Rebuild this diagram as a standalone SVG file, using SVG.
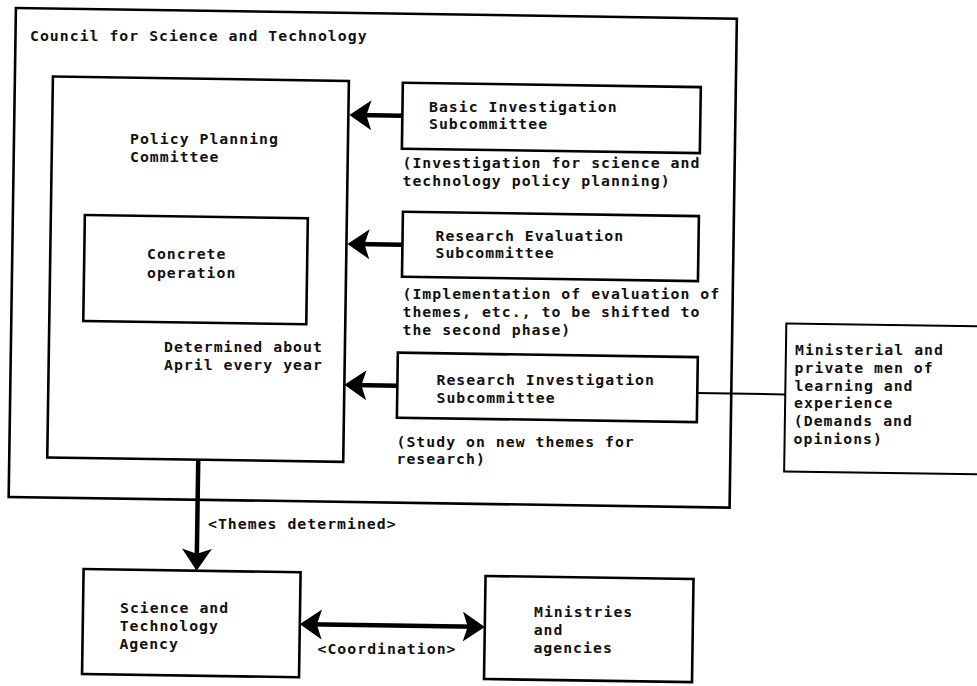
<svg xmlns="http://www.w3.org/2000/svg" width="977" height="686" viewBox="0 0 977 686">
<style>
.box{fill:none;stroke:#000;stroke-width:2.6}
.thinbox{fill:none;stroke:#000;stroke-width:2}
.t{font-family:"DejaVu Sans Mono","Liberation Mono",monospace;font-size:14.8px;letter-spacing:1.02px;font-weight:bold;fill:#111}
.shaft{stroke:#000;stroke-width:4.5;fill:none}
.link{stroke:#000;stroke-width:2;fill:none}
</style>
<defs>
<marker id="head" viewBox="0 0 22 30" refX="14" refY="15" markerWidth="22" markerHeight="30" markerUnits="userSpaceOnUse" orient="auto-start-reverse">
<path d="M0,0 L22,15 L0,30 L5,15 Z" fill="#000"/>
</marker>
</defs>
<rect x="0" y="0" width="977" height="686" fill="#fff"/>
<g id="council">
<rect class="box" x="11" y="15" width="721" height="489" transform="rotate(0.85 488 343)"/>
<text class="t" x="30" y="40.6">Council for Science and Technology</text>
</g>
<g id="policy">
<rect class="box" x="49" y="83" width="296" height="381" transform="rotate(0.85 488 343)"/>
<text class="t" x="130" y="143.7">Policy Planning</text>
<text class="t" x="130" y="162.3">Committee</text>
<text class="t" x="164" y="352.4">Determined about</text>
<text class="t" x="164" y="370.4">April every year</text>
</g>
<g id="concrete">
<rect class="box" x="83" y="221" width="223" height="106" transform="rotate(0.85 488 343)"/>
<text class="t" x="147" y="258.5">Concrete</text>
<text class="t" x="147" y="277.6">operation</text>
</g>
<g id="basic">
<rect class="box" x="399" y="84" width="298" height="66" transform="rotate(0.85 488 343)"/>
<text class="t" x="429" y="111.5">Basic Investigation</text>
<text class="t" x="429" y="129">Subcommittee</text>
<text class="t" x="402.5" y="167.9">(Investigation for science and</text>
<text class="t" x="402.5" y="185.7">technology policy planning)</text>
</g>
<g id="evaluation">
<rect class="box" x="401" y="213" width="296" height="65" transform="rotate(0.85 488 343)"/>
<text class="t" x="435.5" y="240.6">Research Evaluation</text>
<text class="t" x="435.5" y="258.1">Subcommittee</text>
<text class="t" x="402.5" y="299.1">(Implementation of evaluation of</text>
<text class="t" x="402.5" y="316.9">themes, etc., to be shifted to</text>
<text class="t" x="402.5" y="334.6">the second phase)</text>
</g>
<g id="investigation">
<rect class="box" x="398" y="354" width="300" height="65" transform="rotate(0.85 488 343)"/>
<text class="t" x="436.5" y="384.8">Research Investigation</text>
<text class="t" x="436.5" y="403.1">Subcommittee</text>
<text class="t" x="396.5" y="446.5">(Study on new themes for</text>
<text class="t" x="396.5" y="464.3">research)</text>
</g>
<g id="ministerial">
<rect class="thinbox" x="786" y="319" width="230" height="148" transform="rotate(0.85 488 343)"/>
<text class="t" x="795" y="354.7">Ministerial and</text>
<text class="t" x="794.6" y="372.6">private men of</text>
<text class="t" x="794.4" y="390.5">learning and</text>
<text class="t" x="794.1" y="408.3">experience</text>
<text class="t" x="793.8" y="426.3">(Demands and</text>
<text class="t" x="793.6" y="444.1">opinions)</text>
</g>
<g id="sta">
<rect class="box" x="87" y="575" width="217" height="105" transform="rotate(0.85 488 343)"/>
<text class="t" x="120" y="613.4">Science and</text>
<text class="t" x="119.7" y="631.4">Technology</text>
<text class="t" x="119.4" y="649.4">Agency</text>
</g>
<g id="ministries">
<rect class="box" x="489" y="576" width="208" height="103" transform="rotate(0.85 488 343)"/>
<text class="t" x="534" y="617.4">Ministries</text>
<text class="t" x="533.7" y="635.2">and</text>
<text class="t" x="533.4" y="653.3">agencies</text>
</g>
<g id="connectors">
<g transform="rotate(0.85 488 343)">
<line class="shaft" x1="399" y1="117" x2="354" y2="117" marker-end="url(#head)"/>
<line class="shaft" x1="401" y1="246" x2="354" y2="246" marker-end="url(#head)"/>
<line class="shaft" x1="398" y1="387" x2="353" y2="387" marker-end="url(#head)"/>
<line class="link" x1="698" y1="390" x2="786" y2="390"/>
<line class="shaft" x1="200" y1="464" x2="200" y2="567" marker-end="url(#head)"/>
<line class="shaft" x1="312" y1="627" x2="481" y2="627" marker-start="url(#head)" marker-end="url(#head)"/>
</g>
<text class="t" x="208" y="529.3">&lt;Themes determined&gt;</text>
<text class="t" x="317.5" y="653.5">&lt;Coordination&gt;</text>
</g>
</svg>
